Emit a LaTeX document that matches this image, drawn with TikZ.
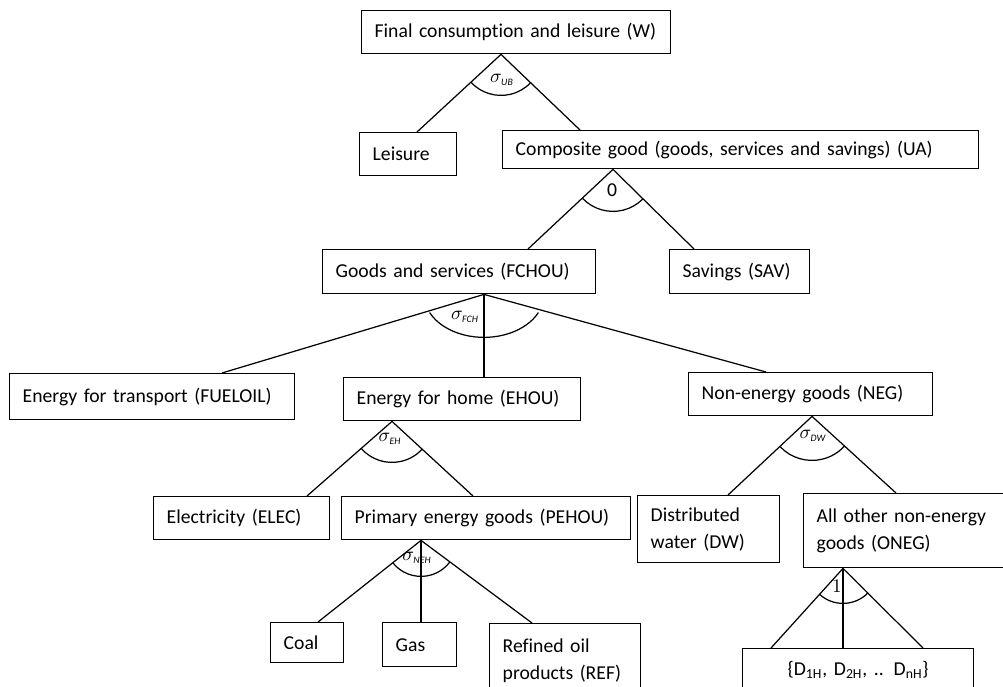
\documentclass[tikz,border=0pt]{standalone}
\usepackage{fontspec}
\setmainfont{Carlito}[Ligatures=NoCommon]
\begin{document}
\begin{tikzpicture}[x=0.02cm, y=-0.02cm, font=\fontsize{11.2pt}{15.5pt}\selectfont]
      \clip (0,0) rectangle (1003,686);
      \begin{scope}[every node/.style={draw, line width=0.8pt, anchor=north west, align=left,
          inner xsep=0.26cm, inner ysep=0pt, minimum height=0.86cm}]
        \node[text width=5.66cm] (W) at (361,10) {Final consumption and leisure (W)};
        \node[text width=1.42cm] (L) at (359,132) {Leisure};
        \node[text width=9.00cm, minimum height=0.76cm] (UA) at (502,130) {Composite good (goods, services and savings) (UA)};
        \node[text width=4.94cm, minimum height=0.88cm] (FCHOU) at (322,249) {Goods and services (FCHOU)};
        \node[text width=2.28cm, minimum height=0.88cm] (SAV) at (669,249) {Savings (SAV)};
        \node[text width=5.18cm, minimum height=0.92cm] (FUELOIL) at (9,373) {Energy for transport (FUELOIL)};
        \node[text width=4.22cm] (EHOU) at (343,377) {Energy for home (EHOU)};
        \node[text width=4.36cm] (NEG) at (688,372) {Non-energy goods (NEG)};
        \node[text width=3.00cm] (ELEC) at (153,496) {Electricity (ELEC)};
        \node[text width=5.26cm] (PEHOU) at (341,496) {Primary energy goods (PEHOU)};
        \node[text width=2.32cm, minimum height=1.34cm] (DW) at (637,495) {Distributed\\water (DW)};
        \node[text width=3.62cm, minimum height=1.48cm] (ONEG) at (803,493) {All other non-energy\\goods (ONEG)};
        \node[text width=0.94cm, minimum height=0.80cm] (Coal) at (270,622) {Coal};
        \node[text width=0.96cm, minimum height=0.88cm] (Gas) at (382,622) {Gas};
        \node[text width=2.50cm, minimum height=1.48cm] (REF) at (489,623) {Refined oil\\products (REF)};
        \node[text width=4.10cm, align=center] (D) at (742,648) {\{D\textsubscript{1H}, D\textsubscript{2H}, .. D\textsubscript{nH}\}};
      \end{scope}
      \begin{scope}[line width=0.7pt]
        \coordinate (ub) at (W.south -| 501,0);
        \draw (ub) -- (L.north -| 417,0);
        \draw (ub) -- (UA.north -| 580,0);
        \draw (ub) ++(223:0.82cm) arc[start angle=223, end angle=316, radius=0.82cm];
        \node (sUB) at (502,80) {$\sigma_{\scriptscriptstyle\mathit{UB}}$};

        \coordinate (ua) at (UA.south -| 613,0);
        \draw (ua) -- (FCHOU.north -| 528,0);
        \draw (ua) -- (SAV.north -| 694,0);
        \draw (ua) ++(224:0.84cm) arc[start angle=224, end angle=315, radius=0.84cm];
        \node (s0) at (612,190) {0};

        \coordinate (fch) at (FCHOU.south -| 484,0);
        \draw (fch) -- (FUELOIL.north -| 222,0);
        \draw (fch) -- (EHOU.north -| 484,0);
        \draw (fch) -- (NEG.north -| 766,0);
        \draw (fch) ++(205:1.2cm and 0.86cm) arc[start angle=205, end angle=335, x radius=1.2cm, y radius=0.86cm];
        \node (sFCH) at (465,317) {$\sigma_{\scriptscriptstyle\mathit{FCH}}$};

        \coordinate (eh) at (EHOU.south -| 392,0);
        \draw (eh) -- (ELEC.north -| 307,0);
        \draw (eh) -- (PEHOU.north -| 473,0);
        \draw (eh) ++(222:0.82cm) arc[start angle=222, end angle=317, radius=0.82cm];
        \node (sEH) at (390,439) {$\sigma_{\scriptscriptstyle\mathit{EH}}$};

        \coordinate (dw) at (NEG.south -| 812,0);
        \draw (dw) -- (DW.north -| 728,0);
        \draw (dw) -- (ONEG.north -| 896,0);
        \draw (dw) ++(224:0.88cm) arc[start angle=224, end angle=317, radius=0.88cm];
        \node (sDW) at (813,436) {$\sigma_{\scriptscriptstyle\mathit{DW}}$};

        \coordinate (neh) at (PEHOU.south -| 421,0);
        \draw (neh) -- (Coal.north -| 318,0);
        \draw (neh) -- (Gas.north -| 421,0);
        \draw (neh) -- (REF.north -| 532,0);
        \draw (neh) ++(219:0.72cm) arc[start angle=219, end angle=323, radius=0.72cm];
        \node (sNEH) at (417,558) {$\sigma_{\scriptscriptstyle\mathit{NEH}}$};

        \coordinate (on) at (ONEG.south -| 843,0);
        \draw (on) -- (D.north -| 771,0);
        \draw (on) -- (D.north -| 843,0);
        \draw (on) -- (D.north -| 923,0);
        \draw (on) ++(228:0.70cm) arc[start angle=228, end angle=315, radius=0.70cm];
        \node (s1) at (837,586) {$1$};
      \end{scope}
\end{tikzpicture}
\end{document}
